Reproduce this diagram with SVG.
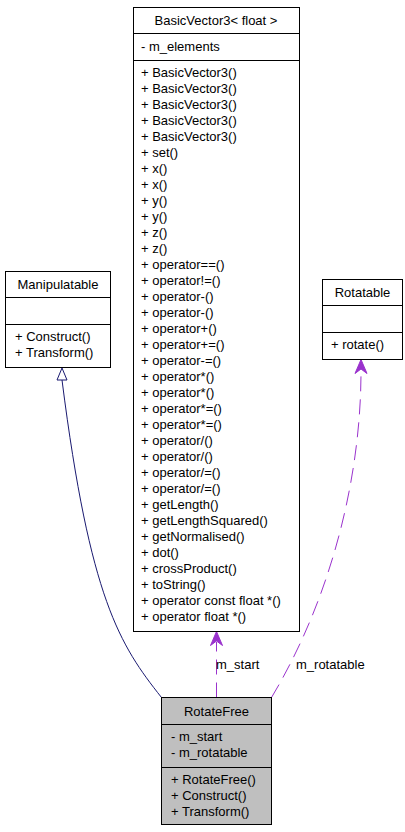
<svg xmlns="http://www.w3.org/2000/svg" width="405" height="832" viewBox="0 0 405 832">
<style>
text{font-family:"Liberation Sans",Arial,sans-serif;font-size:13px;fill:#000}
.t{text-anchor:middle}
.box{fill:#fff;stroke:#000;stroke-width:1}
.sel{fill:#bfbfbf;stroke:#000;stroke-width:1}
.sep{stroke:#000;stroke-width:1}
.inh{fill:none;stroke:#191970;stroke-width:1}
.use{fill:none;stroke:#9a32cd;stroke-width:1;stroke-dasharray:15 8}
</style>
<rect width="405" height="832" fill="#fff"/>
<g id="connectors">
  <path class="inh" d="M161.5,697.5 C120,645 90,600 62,380"/>
  <polygon points="62,368 57,380 67,380" fill="#fff" stroke="#191970" stroke-width="1"/>
  <path class="use" d="M216.5,697.5 L216.5,642"/>
  <polygon points="216.5,631.5 210.5,645.5 216.5,641 222.5,645.5" fill="#9a32cd" stroke="#9a32cd" stroke-width="1"/>
  <text x="216" y="668.5">m_start</text>
  <path class="use" d="M271.5,697.5 C330,600 361,480 361,371"/>
  <polygon points="361,359.5 355,373.5 361,369 367,373.5" fill="#9a32cd" stroke="#9a32cd" stroke-width="1"/>
  <text x="296" y="668.5">m_rotatable</text>
</g>
<g id="BasicVector3">
  <rect class="box" x="133.5" y="7.5" width="166" height="624"/>
  <line class="sep" x1="133.5" y1="33.5" x2="299.5" y2="33.5"/>
  <line class="sep" x1="133.5" y1="60.5" x2="299.5" y2="60.5"/>
  <text class="t" x="216" y="24.5">BasicVector3&lt; float &gt;</text>
  <text x="141" y="51">- m_elements</text>
  <text x="141" y="76.5">
    <tspan x="141">+ BasicVector3()</tspan>
    <tspan x="141" dy="16">+ BasicVector3()</tspan>
    <tspan x="141" dy="16">+ BasicVector3()</tspan>
    <tspan x="141" dy="16">+ BasicVector3()</tspan>
    <tspan x="141" dy="16">+ BasicVector3()</tspan>
    <tspan x="141" dy="16">+ set()</tspan>
    <tspan x="141" dy="16">+ x()</tspan>
    <tspan x="141" dy="16">+ x()</tspan>
    <tspan x="141" dy="16">+ y()</tspan>
    <tspan x="141" dy="16">+ y()</tspan>
    <tspan x="141" dy="16">+ z()</tspan>
    <tspan x="141" dy="16">+ z()</tspan>
    <tspan x="141" dy="16">+ operator==()</tspan>
    <tspan x="141" dy="16">+ operator!=()</tspan>
    <tspan x="141" dy="16">+ operator-()</tspan>
    <tspan x="141" dy="16">+ operator-()</tspan>
    <tspan x="141" dy="16">+ operator+()</tspan>
    <tspan x="141" dy="16">+ operator+=()</tspan>
    <tspan x="141" dy="16">+ operator-=()</tspan>
    <tspan x="141" dy="16">+ operator*()</tspan>
    <tspan x="141" dy="16">+ operator*()</tspan>
    <tspan x="141" dy="16">+ operator*=()</tspan>
    <tspan x="141" dy="16">+ operator*=()</tspan>
    <tspan x="141" dy="16">+ operator/()</tspan>
    <tspan x="141" dy="16">+ operator/()</tspan>
    <tspan x="141" dy="16">+ operator/=()</tspan>
    <tspan x="141" dy="16">+ operator/=()</tspan>
    <tspan x="141" dy="16">+ getLength()</tspan>
    <tspan x="141" dy="16">+ getLengthSquared()</tspan>
    <tspan x="141" dy="16">+ getNormalised()</tspan>
    <tspan x="141" dy="16">+ dot()</tspan>
    <tspan x="141" dy="16">+ crossProduct()</tspan>
    <tspan x="141" dy="16">+ toString()</tspan>
    <tspan x="141" dy="16">+ operator const float *()</tspan>
    <tspan x="141" dy="16">+ operator float *()</tspan>
  </text>
</g>
<g id="Manipulatable">
  <rect class="box" x="5.5" y="271.5" width="105" height="96"/>
  <line class="sep" x1="5.5" y1="297.5" x2="110.5" y2="297.5"/>
  <line class="sep" x1="5.5" y1="324.5" x2="110.5" y2="324.5"/>
  <text class="t" x="58" y="288.5">Manipulatable</text>
  <text x="15" y="340.5">+ Construct()</text>
  <text x="15" y="356.5">+ Transform()</text>
</g>
<g id="Rotatable">
  <rect class="box" x="322.5" y="279.5" width="80" height="80"/>
  <line class="sep" x1="322.5" y1="305.5" x2="402.5" y2="305.5"/>
  <line class="sep" x1="322.5" y1="332.5" x2="402.5" y2="332.5"/>
  <text class="t" x="362.5" y="296.5">Rotatable</text>
  <text x="331" y="348.5">+ rotate()</text>
</g>
<g id="RotateFree">
  <rect class="sel" x="161.5" y="697.5" width="110" height="127"/>
  <line class="sep" x1="161.5" y1="724.5" x2="271.5" y2="724.5"/>
  <line class="sep" x1="161.5" y1="767.5" x2="271.5" y2="767.5"/>
  <text class="t" x="216.5" y="715.5">RotateFree</text>
  <text x="171" y="740.5">- m_start</text>
  <text x="171" y="756.5">- m_rotatable</text>
  <text x="171" y="783.5">+ RotateFree()</text>
  <text x="171" y="799.5">+ Construct()</text>
  <text x="171" y="815.5">+ Transform()</text>
</g>
</svg>
